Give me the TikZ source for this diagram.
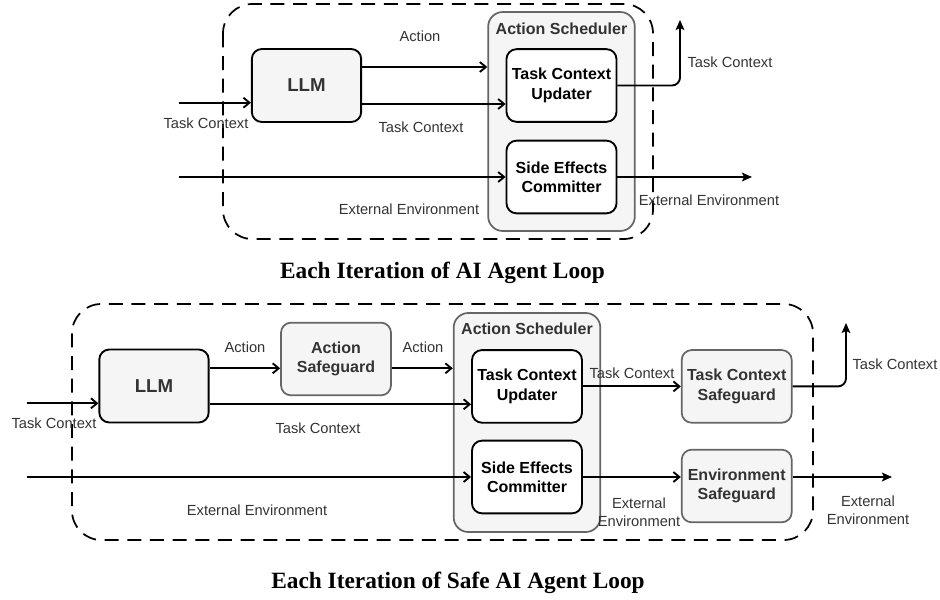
\documentclass[tikz,border=0pt]{standalone}
\usepackage{fontspec}
\setmainfont{Liberation Sans}
\newfontfamily\titlefont{Liberation Serif}
\usetikzlibrary{arrows.meta}
\definecolor{boxfill}{HTML}{F5F5F5}
\definecolor{boxgray}{HTML}{666666}
\definecolor{txt}{HTML}{333333}
\tikzset{
  x=0.75pt, y=-0.75pt,
  llmbox/.style={draw=black, line width=1.4pt, fill=boxfill, rounded corners=7.5pt, minimum width=82pt, minimum height=54.75pt, font=\fontsize{14}{16}\selectfont\bfseries, text=txt, inner sep=0pt},
  innerbox/.style={draw=black, line width=1.4pt, fill=white, rounded corners=7.5pt, minimum width=82.5pt, minimum height=54.5pt, font=\fontsize{12}{14.5}\selectfont\bfseries, align=center, inner sep=0pt},
  guardbox/.style={draw=boxgray, line width=1.3pt, fill=boxfill, rounded corners=7.5pt, minimum width=82.5pt, minimum height=54.5pt, font=\fontsize{12}{14.5}\selectfont\bfseries, text=txt, align=center, inner sep=0pt},
  schedbox/.style={draw=boxgray, line width=1.3pt, fill=boxfill, rounded corners=11pt, minimum width=110pt, minimum height=164.25pt, inner sep=0pt},
  schedtitle/.style={font=\fontsize{12}{14.5}\selectfont\bfseries, text=txt, inner sep=0pt},
  lbl/.style={font=\fontsize{11}{13.5}\selectfont, text=txt, align=center, inner sep=0pt},
  openarrow/.style={line width=1.4pt, -{Straight Barb[length=4.5pt, width=7.5pt]}},
  fillarrow/.style={line width=1.4pt, -{Stealth[length=7.5pt, width=6.5pt, inset=1.5pt]}},
  loopframe/.style={draw=black, line width=1.3pt, dash pattern=on 10.5pt off 6.5pt, rounded corners=22pt},
  titletext/.style={font=\titlefont\fontsize{17.5}{20}\selectfont\bfseries, inner sep=0pt}
}
\begin{document}
\begin{tikzpicture}
\useasboundingbox (0,0) rectangle (940,600);

% ================= TOP DIAGRAM =================
\draw[loopframe] (223,4) rectangle (653,239);
\node[schedbox] (sch1) at (561.5,121.5) {};
\node[schedtitle] (sch1t) at (561.5,29) {Action Scheduler};
\node[llmbox] (llm1) at (306.5,85.5) {LLM};
\node[innerbox] (tcu1) at (561.5,85.5) {Task Context\\Updater};
\node[innerbox] (sec1) at (561.5,177) {Side Effects\\Committer};

\coordinate (in1) at (179,102.7);
\coordinate (env1in) at (179,177);
\coordinate (tcout1) at (680,20);
\coordinate (envout1) at (752,177);

\draw[openarrow] (in1) -- (llm1.west |- in1);
\draw[openarrow] (llm1.east |- 0,67) -- (sch1.west |- 0,67);
\draw[openarrow] (llm1.east |- 0,104) -- (tcu1.west |- 0,104);
\draw[openarrow] (env1in) -- (sec1.west |- env1in);
\draw[fillarrow, rounded corners=6pt] (tcu1.east) -| (tcout1);
\draw[fillarrow] (sec1.east |- envout1) -- (envout1);

\node[lbl] (l1a) at (420,36) {Action};
\node[lbl] (l1b) at (421,127) {Task Context};
\node[lbl] (l1c) at (409,209) {External Environment};
\node[lbl] (l1d) at (206,123) {Task Context};
\node[lbl] (l1e) at (730,62) {Task Context};
\node[lbl] (l1f) at (709,200) {External Environment};

\node[titletext] (title1) at (442.5,273) {Each Iteration of AI Agent Loop};

% ================= BOTTOM DIAGRAM =================
\draw[loopframe] (72,304) rectangle (813,540);
\node[schedbox] (sch2) at (527,422.5) {};
\node[schedtitle] (sch2t) at (527,329) {Action Scheduler};
\node[llmbox] (llm2) at (154,386) {LLM};
\node[guardbox] (asg) at (336,359) {Action\\Safeguard};
\node[innerbox] (tcu2) at (527,386.4) {Task Context\\Updater};
\node[innerbox] (sec2) at (527,477) {Side Effects\\Committer};
\node[guardbox] (tcsg) at (736.7,386.4) {Task Context\\Safeguard};
\node[guardbox] (esg) at (736.7,486) {Environment\\Safeguard};

\coordinate (in2) at (26.7,403.3);
\coordinate (env2in) at (26.7,477);
\coordinate (tcout2) at (846,323);
\coordinate (envout2) at (892,477);

\draw[openarrow] (in2) -- (llm2.west |- in2);
\draw[openarrow] (llm2.east |- 0,368.3) -- (asg.west |- 0,368.3);
\draw[openarrow] (asg.east |- 0,368.3) -- (sch2.west |- 0,368.3);
\draw[openarrow] (llm2.east |- 0,404.3) -- (tcu2.west |- 0,404.3);
\draw[openarrow] (env2in) -- (sec2.west |- env2in);
\draw[openarrow] (tcu2.east) -- (tcsg.west);
\draw[openarrow] (sec2.east) -- (esg.west |- sec2.east);
\draw[fillarrow, rounded corners=6pt] (tcsg.east) -| (tcout2);
\draw[fillarrow] (esg.east |- envout2) -- (envout2);

\node[lbl] (l2a) at (54,423) {Task Context};
\node[lbl] (l2b) at (245,347) {Action};
\node[lbl] (l2c) at (423,347) {Action};
\node[lbl] (l2d) at (318,428) {Task Context};
\node[lbl] (l2e) at (257,510) {External Environment};
\node[lbl] (l2f) at (632,373) {Task Context};
\node[lbl] (l2g) at (639,512) {External\\Environment};
\node[lbl] (l2h) at (895,364) {Task Context};
\node[lbl] (l2i) at (868,510) {External\\Environment};

\node[titletext] (title2) at (458,583) {Each Iteration of Safe AI Agent Loop};
\end{tikzpicture}
\end{document}
